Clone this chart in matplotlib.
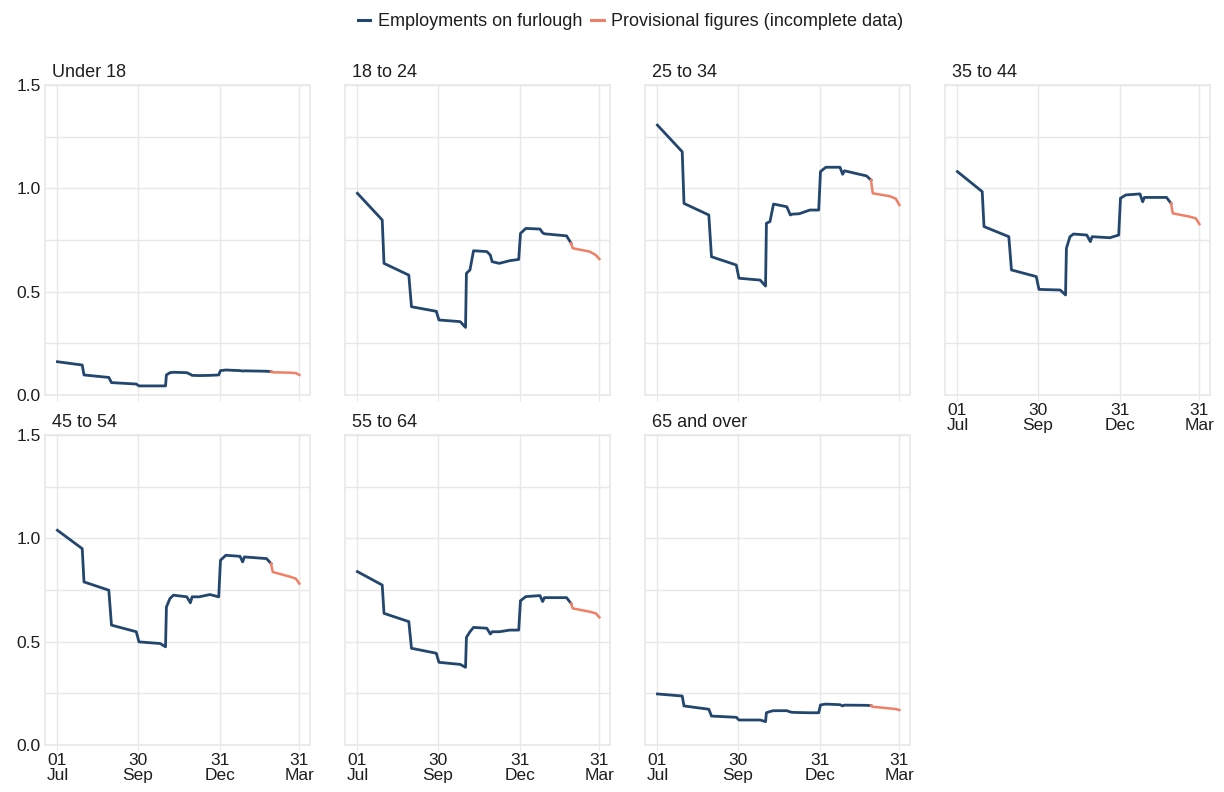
import numpy as np
import pandas as pd
import matplotlib
matplotlib.use("Agg")
import matplotlib.pyplot as plt
from matplotlib.lines import Line2D

plt.rcParams['font.family'] = ['Liberation Sans', 'DejaVu Sans']

# days since 1 Jul 2020 at which the values below were read
day_offsets = [0, 28, 30, 58, 61, 89, 92, 116, 122, 123, 127, 131, 146, 150, 152,
               160, 172, 182, 184, 190, 206, 209, 211, 236, 241, 243, 262, 269, 273]
provisional_from = 241  # day where the provisional (incomplete) part begins

panel_titles = ["Under 18", "18 to 24", "25 to 34", "35 to 44",
                "45 to 54", "55 to 64", "65 and over"]

under_18 = [0.161, 0.145, 0.097, 0.085, 0.060, 0.053, 0.044, 0.044, 0.044, 0.097, 0.108,
            0.110, 0.108, 0.100, 0.095, 0.094, 0.095, 0.097, 0.118, 0.121, 0.118, 0.116,
            0.117, 0.115, 0.113, 0.110, 0.108, 0.106, 0.097]
age_18_24 = [0.976, 0.847, 0.637, 0.580, 0.427, 0.405, 0.363, 0.355, 0.327, 0.589, 0.605,
             0.698, 0.694, 0.677, 0.645, 0.637, 0.650, 0.656, 0.782, 0.806, 0.803, 0.785,
             0.780, 0.770, 0.735, 0.710, 0.694, 0.677, 0.658]
age_25_34 = [1.306, 1.177, 0.927, 0.871, 0.669, 0.629, 0.565, 0.556, 0.527, 0.831, 0.839,
             0.924, 0.911, 0.871, 0.875, 0.877, 0.895, 0.895, 1.081, 1.102, 1.102, 1.068,
             1.085, 1.060, 1.040, 0.976, 0.962, 0.950, 0.919]
age_35_44 = [1.081, 0.984, 0.815, 0.766, 0.605, 0.573, 0.511, 0.508, 0.484, 0.710, 0.766,
             0.779, 0.774, 0.742, 0.766, 0.764, 0.761, 0.774, 0.952, 0.968, 0.973, 0.935,
             0.956, 0.956, 0.927, 0.879, 0.863, 0.855, 0.827]
age_45_54 = [1.039, 0.950, 0.789, 0.749, 0.580, 0.548, 0.499, 0.491, 0.475, 0.668, 0.709,
             0.725, 0.717, 0.688, 0.717, 0.717, 0.728, 0.717, 0.894, 0.918, 0.913, 0.886,
             0.910, 0.902, 0.878, 0.837, 0.815, 0.805, 0.781]
age_55_64 = [0.839, 0.774, 0.637, 0.597, 0.468, 0.444, 0.400, 0.390, 0.376, 0.521, 0.548,
             0.569, 0.565, 0.537, 0.548, 0.548, 0.556, 0.556, 0.698, 0.718, 0.723, 0.694,
             0.713, 0.713, 0.685, 0.661, 0.645, 0.637, 0.618]
age_65_over = [0.247, 0.237, 0.189, 0.173, 0.140, 0.134, 0.121, 0.121, 0.113, 0.156, 0.162,
               0.166, 0.166, 0.160, 0.158, 0.157, 0.156, 0.156, 0.194, 0.198, 0.195, 0.189,
               0.193, 0.192, 0.190, 0.185, 0.177, 0.174, 0.169]

series = [under_18, age_18_24, age_25_34, age_35_44, age_45_54, age_55_64, age_65_over]

tick_dates = ["2020-07-01", "2020-09-30", "2020-12-31", "2021-03-31"]
tick_labels = ["01\nJul", "30\nSep", "31\nDec", "31\nMar"]

BLUE = '#22466d'
ORANGE = '#ef7f66'
GRID = '#e8e8e8'
TEXT = '#1e1e1e'

start = pd.Timestamp("2020-07-01")
dates = start + pd.to_timedelta(day_offsets, unit='D')
prov = start + pd.Timedelta(days=provisional_from)

fig = plt.figure(figsize=(12.24, 7.92), dpi=100)

W, H = 1224, 792
col_left = [45, 345, 645, 945]
row_top = [85, 435]
pw, ph = 265, 310

for i, (title, vals) in enumerate(zip(panel_titles, series)):
    r, c = divmod(i, 4)
    ax = fig.add_axes([col_left[c] / W, 1 - (row_top[r] + ph) / H, pw / W, ph / H])
    vals = np.array(vals)
    blue = dates <= prov
    orange = dates >= prov
    ax.plot(dates[blue], vals[blue], color=BLUE, lw=2.0, solid_joinstyle='round', zorder=3)
    ax.plot(dates[orange], vals[orange], color=ORANGE, lw=1.8, solid_joinstyle='round', zorder=3)

    ax.set_ylim(0, 1.5)
    ax.set_xlim(start - pd.Timedelta(days=14), pd.Timestamp("2021-03-31") + pd.Timedelta(days=12))
    ax.set_yticks([0, 0.5, 1.0, 1.5])
    ax.set_yticks([0.25, 0.75, 1.25], minor=True)
    ax.set_xticks(pd.to_datetime(tick_dates))
    ax.grid(True, which='both', color=GRID, lw=1)
    ax.set_axisbelow(True)
    for s in ax.spines.values():
        s.set_color(GRID)
        s.set_linewidth(1.2)

    ax.tick_params(axis='y', which='both', length=0, pad=3, labelsize=12.5, labelcolor=TEXT)
    ax.tick_params(axis='x', length=4, color=GRID, pad=2, labelsize=12.5, labelcolor=TEXT)
    ax.set_yticklabels(["0.0", "0.5", "1.0", "1.5"])
    if c != 0:
        ax.set_yticklabels([])
    # x labels only where no panel sits underneath
    if r == 1 or c == 3:
        ax.set_xticklabels(tick_labels, linespacing=1.0)
    else:
        ax.set_xticklabels([])

    ax.text(0.025, 1.012, title, transform=ax.transAxes, ha='left', va='bottom',
            fontsize=13, color=TEXT)

handles = [Line2D([0], [0], color=BLUE, lw=2.2),
           Line2D([0], [0], color=ORANGE, lw=2.2)]
fig.legend(handles, ["Employments on furlough", "Provisional figures (incomplete data)"],
           loc='center', bbox_to_anchor=(0.515, 1 - 22 / H), ncol=2, frameon=False,
           fontsize=13, handlelength=0.7, handletextpad=0.4, columnspacing=0.5,
           labelcolor=TEXT)

fig.savefig("out.png", dpi=100)
